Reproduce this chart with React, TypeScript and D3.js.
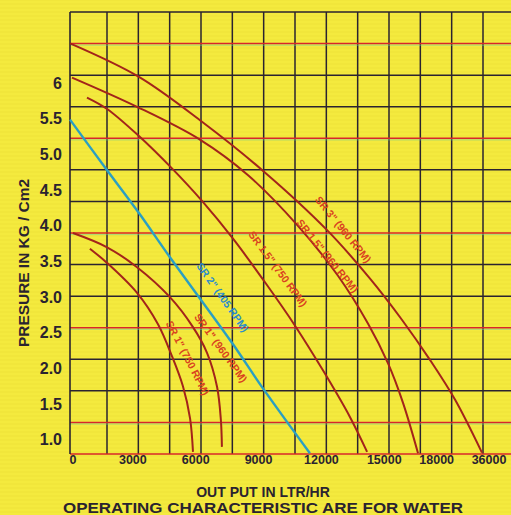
import React, { useEffect, useRef } from 'react';
import * as d3 from 'd3';

// flow in ltr/hr, pressure in kg/cm2
const sr3_960: [number, number][] = [
  [0, 6.56], [3290, 6.09], [6300, 5.46], [9260, 4.76], [12270, 3.94], [14320, 3.26],
  [15850, 2.68], [17180, 2.12], [18380, 1.56], [19660, 0.82]
];
const sr15_960: [number, number][] = [
  [95, 6.08], [3200, 5.67], [6200, 5.21], [8500, 4.71], [10880, 4.0], [12790, 3.3],
  [14220, 2.63], [15180, 2.07], [15890, 1.52], [16610, 0.81]
];
const sr15_750: [number, number][] = [
  [810, 5.8], [1770, 5.64], [3290, 5.26], [4820, 4.82], [6300, 4.35], [7780, 3.82],
  [9400, 3.17], [10740, 2.6], [12080, 1.97], [13360, 1.32], [14180, 0.83]
];
const sr2_405: [number, number][] = [
  [0, 5.49], [1770, 4.78], [3290, 4.18], [4770, 3.56], [7730, 2.36], [9210, 1.72], [11450, 0.81]
];
const sr1_960: [number, number][] = [
  [140, 3.9], [1770, 3.7], [3200, 3.42], [4770, 3.0], [5870, 2.58], [6540, 2.22],
  [7020, 1.74], [7200, 1.28], [7250, 0.9]
];
const sr1_750: [number, number][] = [
  [950, 3.68], [1770, 3.48], [3200, 3.06], [4200, 2.62], [4870, 2.17], [5390, 1.75],
  [5730, 1.3], [5870, 0.83]
];

const seriesNames = [
  'SR 3" (960 RPM)', 'SR 1.5" (960 RPM)', 'SR 1.5" (750 RPM)',
  'SR 2" (405 RPM)', 'SR 1" (960 RPM)', 'SR 1" (750 RPM)'
];
const seriesData = [sr3_960, sr15_960, sr15_750, sr2_405, sr1_960, sr1_750];

const yTicks = [1.0, 1.5, 2.0, 2.5, 3.0, 3.5, 4.0, 4.5, 5.0, 5.5, 6];
const yTickLabels = ['1.0', '1.5', '2.0', '2.5', '3.0', '3.5', '4.0', '4.5', '5.0', '5.5', '6'];
const xTicks = [0, 3000, 6000, 9000, 12000, 15000, 17500, 20000];
const xTickLabels = ['0', '3000', '6000', '9000', '12000', '15000', '18000', '36000'];

const W = 511;
const H = 515;
const RED = '#a3241a';
const BLUE = '#2b9fc2';
const INK = '#2a2330';

export default function App() {
  const ref = useRef<SVGSVGElement>(null);

  useEffect(() => {
    const svg = d3.select(ref.current);
    svg.selectAll('*').remove();

    const left = 70, top = 12, bottom = 454;
    const x = d3.scaleLinear().domain([0, 21000]).range([left, 510]);
    const y = d3.scaleLinear().domain([0.8, 7.0]).range([bottom, top]);
    // grid is printed on its own spacing, not on the tick values
    const gy = d3.scaleLinear().domain([0, 14]).range([bottom, top]);
    const gx = d3.scaleLinear().domain([1, 13]).range([107, 483]);

    svg.append('rect').attr('width', W).attr('height', H).attr('fill', '#f4ea3e');

    // faint print lines
    svg.append('g').selectAll('line').data(d3.range(0, H, 4)).enter()
      .append('line')
      .attr('x1', 0).attr('x2', W)
      .attr('y1', d => d).attr('y2', d => d)
      .attr('stroke', '#e8d830').attr('stroke-width', 1).attr('opacity', 0.35);

    // 网格
    const grid = svg.append('g');
    grid.selectAll('.v').data(d3.range(1, 14)).enter()
      .append('line')
      .attr('x1', d => gx(d)).attr('x2', d => gx(d))
      .attr('y1', top).attr('y2', bottom)
      .attr('stroke', INK).attr('stroke-width', 1.5);
    grid.selectAll('.h').data(d3.range(0, 15)).enter()
      .append('line')
      .attr('x1', left).attr('x2', W)
      .attr('y1', d => gy(d)).attr('y2', d => gy(d))
      .attr('stroke', d => (d % 3 === 1 || d === 0) ? '#d8262a' : INK)
      .attr('stroke-width', 1.5);
    grid.selectAll('.c').data(d3.range(0, 15).filter(d => d % 3 === 1)).enter()
      .append('line')
      .attr('x1', left).attr('x2', W)
      .attr('y1', d => gy(d) + 1.6).attr('y2', d => gy(d) + 1.6)
      .attr('stroke', '#6fd0a0').attr('stroke-width', 0.8).attr('opacity', 0.7);
    grid.append('line')
      .attr('x1', left).attr('x2', left).attr('y1', top).attr('y2', bottom)
      .attr('stroke', INK).attr('stroke-width', 1.6);

    // 曲线
    const line = d3.line<[number, number]>()
      .x(d => x(d[0]))
      .y(d => y(d[1]))
      .curve(d3.curveCatmullRom.alpha(0.5));
    svg.append('g').selectAll('path').data(seriesData).enter()
      .append('path')
      .attr('d', d => line(d))
      .attr('fill', 'none')
      .attr('stroke', (d, i) => i === 3 ? BLUE : RED)
      .attr('stroke-width', (d, i) => i === 3 ? 2.4 : 2);

    // curve labels, placed along each curve
    const labelAt = [[13050, 3.95, 51], [12300, 3.58, 51], [9930, 3.4, 53.6], [7300, 3.0, 54.7], [7210, 2.29, 54], [5630, 2.15, 62.7]];
    svg.append('g').selectAll('text').data(seriesNames).enter()
      .append('text')
      .attr('transform', (d, i) => `translate(${x(labelAt[i][0])} ${y(labelAt[i][1])}) rotate(${labelAt[i][2]})`)
      .attr('text-anchor', 'middle')
      .attr('dominant-baseline', 'central')
      .attr('font-family', 'Liberation Sans, Arial, sans-serif')
      .attr('font-weight', 'bold')
      .attr('font-size', 10.5)
      .attr('fill', (d, i) => i === 3 ? '#2a8ccb' : '#d9431f')
      .text(d => d);

    // y 轴
    svg.append('g').selectAll('text').data(yTicks).enter()
      .append('text')
      .attr('x', 62)
      .attr('y', d => y(d))
      .attr('text-anchor', 'end')
      .attr('dominant-baseline', 'central')
      .attr('font-family', 'Liberation Sans, Arial, sans-serif')
      .attr('font-weight', 'bold')
      .attr('font-size', 16)
      .attr('fill', INK)
      .text((d, i) => yTickLabels[i]);

    // x 轴
    svg.append('g').selectAll('text').data(xTicks).enter()
      .append('text')
      .attr('x', (d, i) => i === 0 ? x(d) + 3 : x(d))
      .attr('y', 464)
      .attr('text-anchor', 'middle')
      .attr('font-family', 'Liberation Sans, Arial, sans-serif')
      .attr('font-weight', 'bold')
      .attr('font-size', 12.5)
      .attr('fill', INK)
      .text((d, i) => xTickLabels[i]);

    svg.append('text')
      .attr('x', 263).attr('y', 497)
      .attr('text-anchor', 'middle')
      .attr('font-family', 'Liberation Sans, Arial, sans-serif')
      .attr('font-weight', 'bold').attr('font-size', 14)
      .attr('fill', INK)
      .text('OUT PUT IN LTR/HR');
    svg.append('text')
      .attr('x', 263).attr('y', 513)
      .attr('text-anchor', 'middle')
      .attr('font-family', 'Liberation Sans, Arial, sans-serif')
      .attr('font-weight', 'bold').attr('font-size', 14.5)
      .attr('textLength', 400).attr('lengthAdjust', 'spacingAndGlyphs')
      .attr('fill', INK)
      .text('OPERATING CHARACTERISTIC ARE FOR WATER');
    svg.append('text')
      .attr('transform', 'translate(29 263) rotate(-90)')
      .attr('text-anchor', 'middle')
      .attr('font-family', 'Liberation Sans, Arial, sans-serif')
      .attr('font-weight', 'bold').attr('font-size', 15)
      .attr('textLength', 168).attr('lengthAdjust', 'spacingAndGlyphs')
      .attr('fill', INK)
      .text('PRESURE  IN KG / Cm2');
  }, []);

  return (
    <svg ref={ref} width={W} height={H}
      style={{ position: 'absolute', left: 0, top: 0, display: 'block' }} />
  );
}
